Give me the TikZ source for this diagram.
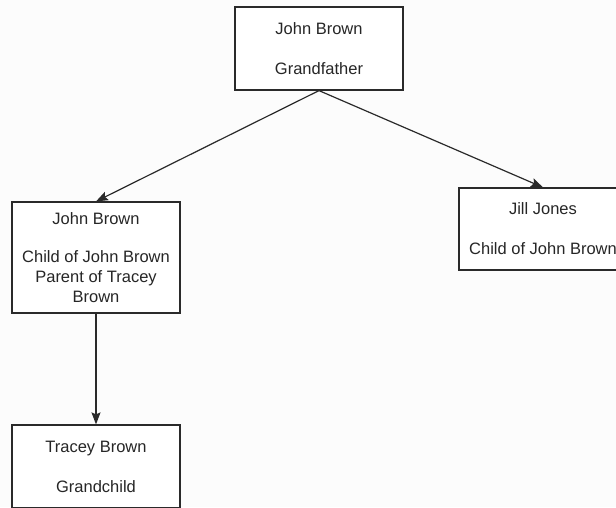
\documentclass[tikz,border=0pt]{standalone}
\usepackage{fontspec}
\setmainfont{Liberation Sans}
\usetikzlibrary{arrows.meta}
\definecolor{linec}{HTML}{2A2A2A}
\definecolor{textc}{HTML}{262626}
\tikzset{
  person/.style={draw=linec, line width=1.2pt, fill=white, minimum width=168pt, minimum height=83pt,
    align=center, inner sep=0pt, text=textc, font=\fontsize{16.5}{20}\selectfont},
  link/.style={draw=linec, line width=1.2pt, -{Stealth[length=12pt,width=9pt,inset=2pt]}}
}
\begin{document}
\begin{tikzpicture}[x=1pt,y=-1pt]
\clip (0,0) rectangle (616,507);
\fill[white!99!black] (0,0) rectangle (616,507);
\node[person] (gf) at (319,48.5) {\raisebox{-2pt}{John Brown}\\[20pt]\raisebox{-2pt}{Grandfather}};
\node[person, minimum height=111pt] (jb) at (96,257.5) {\raisebox{-2pt}{John Brown}\\[20pt]Child of John Brown\\Parent of Tracey\\Brown};
\node[person, minimum height=82pt] (jj) at (543,229) {\raisebox{-2pt}{Jill Jones}\\[20pt]\raisebox{-2pt}{Child of John Brown}};
\node[person] (tb) at (96,466.5) {\raisebox{-1pt}{Tracey Brown}\\[20pt]\raisebox{-1pt}{Grandchild}};
\draw[link] (gf.south) -- (jb.north);
\draw[link] (gf.south) -- (jj.north);
\draw[link] (jb.south) -- (tb.north);
\end{tikzpicture}
\end{document}
